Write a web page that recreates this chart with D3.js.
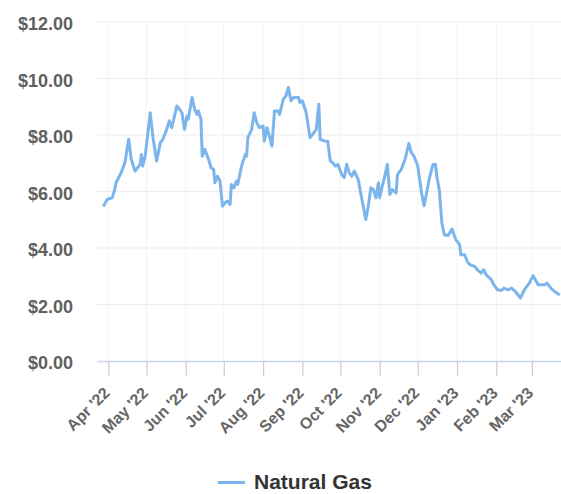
<!DOCTYPE html>
<html>
<head>
<meta charset="utf-8">
<script src="https://cdn.jsdelivr.net/npm/d3@7"></script>
<style>
  html, body { margin: 0; padding: 0; background: #fff; }
  svg { display: block; font-family: "Liberation Sans", Arial, sans-serif; }
</style>
</head>
<body>
<svg id="chart" width="561" height="494"></svg>
<script>
const dates = [
  "2022-03-28","2022-03-31","2022-04-04","2022-04-06","2022-04-07","2022-04-11","2022-04-14","2022-04-17","2022-04-19","2022-04-22",
  "2022-04-26","2022-04-27","2022-04-28","2022-04-30","2022-05-04","2022-05-06","2022-05-09","2022-05-12","2022-05-14","2022-05-17",
  "2022-05-19","2022-05-21","2022-05-25","2022-05-29","2022-05-31","2022-06-02","2022-06-03","2022-06-06","2022-06-08","2022-06-10",
  "2022-06-11","2022-06-13","2022-06-14","2022-06-16","2022-06-19","2022-06-21","2022-06-23","2022-06-24","2022-06-26","2022-06-28",
  "2022-06-30","2022-07-02","2022-07-04","2022-07-06","2022-07-07","2022-07-09","2022-07-11","2022-07-12","2022-07-15","2022-07-18",
  "2022-07-19","2022-07-20","2022-07-23","2022-07-25","2022-07-27","2022-07-29","2022-08-01","2022-08-02","2022-08-04","2022-08-06",
  "2022-08-08","2022-08-10","2022-08-13","2022-08-14","2022-08-17","2022-08-19","2022-08-21","2022-08-23","2022-08-25","2022-08-29",
  "2022-08-30","2022-09-01","2022-09-04","2022-09-07","2022-09-09","2022-09-12","2022-09-14","2022-09-15","2022-09-19","2022-09-21",
  "2022-09-23","2022-09-25","2022-09-27","2022-09-29","2022-10-02","2022-10-04","2022-10-06","2022-10-08","2022-10-10","2022-10-12",
  "2022-10-15","2022-10-17","2022-10-19","2022-10-21","2022-10-23","2022-10-25","2022-10-27","2022-10-29","2022-10-31","2022-11-01",
  "2022-11-03","2022-11-05","2022-11-07","2022-11-09","2022-11-11","2022-11-14","2022-11-15","2022-11-18","2022-11-21","2022-11-24",
  "2022-11-26","2022-11-28","2022-12-01","2022-12-04","2022-12-06","2022-12-08","2022-12-10","2022-12-13","2022-12-15","2022-12-16",
  "2022-12-18","2022-12-20","2022-12-22","2022-12-25","2022-12-28","2022-12-31","2023-01-03","2023-01-04","2023-01-07","2023-01-09",
  "2023-01-11","2023-01-15","2023-01-17","2023-01-20","2023-01-22","2023-01-24","2023-01-28","2023-01-30","2023-02-02","2023-02-05",
  "2023-02-07","2023-02-10","2023-02-13","2023-02-16","2023-02-20","2023-02-23","2023-02-27","2023-03-02","2023-03-06","2023-03-08",
  "2023-03-11","2023-03-13","2023-03-16","2023-03-19","2023-03-21","2023-03-23"
];
const prices = [
  5.47,5.72,5.78,6.07,6.31,6.66,7.02,7.85,7.14,6.72,
  6.96,7.31,6.90,7.25,8.79,7.96,7.08,7.73,7.85,8.20,
  8.50,8.26,9.03,8.79,8.20,8.67,8.56,9.33,8.91,8.73,
  8.85,8.56,7.25,7.49,7.14,6.84,6.78,6.31,6.54,6.37,
  5.48,5.60,5.66,5.54,6.25,6.13,6.37,6.25,6.90,7.31,
  7.25,7.91,8.20,8.79,8.44,8.26,8.32,7.78,8.26,7.96,
  7.61,8.85,8.85,8.73,9.27,9.38,9.68,9.21,9.33,9.33,
  9.15,9.21,8.79,7.91,8.02,8.20,9.09,7.85,7.78,7.78,
  7.08,7.02,6.90,6.96,6.60,6.49,6.96,6.66,6.54,6.72,
  6.43,5.95,5.48,5.01,5.48,6.13,6.07,5.78,6.31,5.78,
  6.19,6.54,6.96,5.89,6.07,5.95,6.60,6.78,7.14,7.70,
  7.37,7.25,6.90,5.95,5.50,5.95,6.43,6.96,6.96,6.54,
  6.07,4.89,4.47,4.44,4.67,4.30,4.12,3.76,3.76,3.53,
  3.41,3.35,3.23,3.11,3.23,3.05,2.88,2.70,2.52,2.50,
  2.58,2.52,2.58,2.46,2.23,2.52,2.76,3.02,2.70,2.70,
  2.70,2.76,2.58,2.46,2.40,2.34
];
const seriesName = "Natural Gas";
const yTicks = [0, 2, 4, 6, 8, 10, 12];
const tickDates = ["2022-04-01","2022-05-01","2022-06-01","2022-07-01","2022-08-01","2022-09-01",
                   "2022-10-01","2022-11-01","2022-12-01","2023-01-01","2023-02-01","2023-03-01"];
const tickLabels = ["Apr '22","May '22","Jun '22","Jul '22","Aug '22","Sep '22",
                    "Oct '22","Nov '22","Dec '22","Jan '23","Feb '23","Mar '23"];

(function () {
const parse = d3.utcParse("%Y-%m-%d");
const data = dates.map((d, i) => ({ date: parse(d), value: prices[i] }));

const svg = d3.select("#chart");
const plotLeft = 97, plotRight = 561, plotTop = 22, plotBottom = 361;

const x = d3.scaleUtc()
  .domain([parse("2022-03-23"), parse("2023-03-24")])
  .range([plotLeft, plotRight]);
const y = d3.scaleLinear().domain([0, 12]).range([plotBottom, plotTop]);

// horizontal gridlines
svg.append("g").selectAll("line").data(yTicks.filter(v => v > 0)).join("line")
  .attr("x1", plotLeft).attr("x2", plotRight)
  .attr("y1", d => y(d)).attr("y2", d => y(d))
  .attr("stroke", "#ececec").attr("stroke-width", 1);

// vertical gridlines
svg.append("g").selectAll("line").data(tickDates).join("line")
  .attr("x1", d => x(parse(d))).attr("x2", d => x(parse(d)))
  .attr("y1", plotTop).attr("y2", plotBottom)
  .attr("stroke", "#f3f3f3").attr("stroke-width", 1);

// y labels
svg.append("g").selectAll("text").data(yTicks).join("text")
  .attr("x", 73).attr("y", d => y(d) + 8)
  .attr("text-anchor", "end")
  .attr("font-size", 18).attr("font-weight", "bold")
  .attr("fill", "#606060")
  .text(d => d3.format("$.2f")(d));

// x axis
const xAxis = d3.axisBottom(x)
  .tickValues(tickDates.map(parse))
  .tickFormat((d, i) => tickLabels[i])
  .tickSize(15)
  .tickSizeOuter(0);
const gx = svg.append("g").attr("transform", `translate(0,${plotBottom})`).call(xAxis);
gx.select(".domain").attr("stroke", "#ccd6eb").attr("stroke-width", 1.5);
gx.selectAll(".tick line").attr("stroke", "#cccccc").attr("stroke-width", 1.2);
gx.selectAll(".tick text")
  .attr("font-family", "Liberation Sans, Arial, sans-serif")
  .attr("font-size", 16).attr("font-weight", "bold")
  .attr("fill", "#666")
  .attr("text-anchor", "end")
  .attr("dy", null)
  .attr("y", 0)
  .attr("transform", "translate(2,33) rotate(-45)");

// line
svg.append("path").datum(data)
  .attr("fill", "none")
  .attr("stroke", "#7cb5ec")
  .attr("stroke-width", 3)
  .attr("stroke-linejoin", "round")
  .attr("d", d3.line().x(d => x(d.date)).y(d => y(d.value)));

// legend
const lg = svg.append("g");
lg.append("line").attr("x1", 218).attr("x2", 245).attr("y1", 482.5).attr("y2", 482.5)
  .attr("stroke", "#7cb5ec").attr("stroke-width", 3);
lg.append("text").attr("x", 254).attr("y", 489)
  .attr("font-size", 21).attr("font-weight", "bold").attr("fill", "#333")
  .text(seriesName);
})();
</script>
</body>
</html>
